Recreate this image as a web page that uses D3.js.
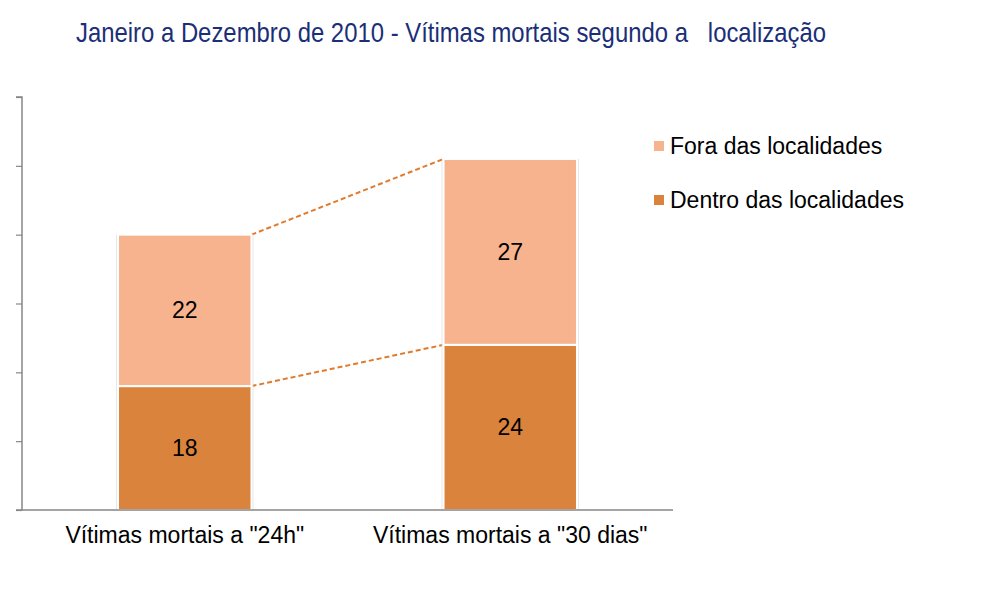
<!DOCTYPE html>
<html>
<head>
<meta charset="utf-8">
<script src="https://cdn.jsdelivr.net/npm/d3@7"></script>
<style>
  html, body { margin: 0; padding: 0; background: #ffffff; }
  svg { display: block; }
</style>
</head>
<body>
<svg id="chart" width="982" height="602"></svg>
<script>
const titleText = "Janeiro a Dezembro de 2010 - Vítimas mortais segundo a\u00a0\u00a0 localização";
const categories = ['Vítimas mortais a "24h"', 'Vítimas mortais a "30 dias"'];
const seriesNames = ["Dentro das localidades", "Fora das localidades"];
const dentro = [18, 24];
const fora = [22, 27];
const yTicks = [0, 10, 20, 30, 40, 50, 60];

const colors = { "Dentro das localidades": "#da833d", "Fora das localidades": "#f7b38e" };

const svg = d3.select("#chart");
const mLeft = 22, mRight = 673, mTop = 97, mBottom = 510;

const x = d3.scaleBand().domain(categories).range([mLeft, mRight]).padding(0);
const y = d3.scaleLinear().domain([0, 60]).range([mBottom, mTop]);
const barW = x.bandwidth() * 0.41;

// Title
svg.append("text")
  .attr("x", 76).attr("y", 42)
  .attr("textLength", 750).attr("lengthAdjust", "spacingAndGlyphs")
  .style("font-family", "'Liberation Sans Narrow', 'Arial Narrow', 'Liberation Sans', Arial, sans-serif")
  .style("font-size", "28px")
  .style("fill", "#1b2f78")
  .text(titleText);

// Stack data
const table = categories.map((c, i) => ({ cat: c, "Dentro das localidades": dentro[i], "Fora das localidades": fora[i] }));
const stack = d3.stack().keys(seriesNames)(table);

// Connector dashed lines (between bars)
seriesNames.forEach((k, si) => {
  const s = stack[si];
  svg.append("line")
    .attr("x1", x(categories[0]) + x.bandwidth() / 2 + barW / 2)
    .attr("y1", y(s[0][1]))
    .attr("x2", x(categories[1]) + x.bandwidth() / 2 - barW / 2)
    .attr("y2", y(s[1][1]))
    .attr("stroke", "#e07a2c")
    .attr("stroke-width", 2)
    .attr("stroke-dasharray", "5,3");
});

// Bars
stack.forEach(s => {
  const g = svg.append("g");
  g.selectAll("rect.shadow").data(s).join("rect")
    .attr("class", "shadow")
    .attr("x", d => x(d.data.cat) + x.bandwidth() / 2 - barW / 2 - 2)
    .attr("y", d => y(d[1]))
    .attr("width", barW + 4)
    .attr("height", d => y(d[0]) - y(d[1]))
    .attr("fill", "#d8d8d8")
    .attr("opacity", 0.6);
  g.selectAll("rect.bar").data(s).join("rect")
    .attr("class", "bar")
    .attr("x", d => x(d.data.cat) + x.bandwidth() / 2 - barW / 2)
    .attr("y", d => y(d[1]))
    .attr("width", barW)
    .attr("height", d => y(d[0]) - y(d[1]))
    .attr("fill", colors[s.key])
    .attr("stroke", "#ffffff")
    .attr("stroke-width", 2);
  g.selectAll("text").data(s).join("text")
    .attr("x", d => x(d.data.cat) + x.bandwidth() / 2)
    .attr("y", d => (y(d[0]) + y(d[1])) / 2 + 8)
    .attr("text-anchor", "middle")
    .style("font-family", "'Liberation Sans', Arial, sans-serif")
    .style("font-size", "23px")
    .style("fill", "#000")
    .text(d => d[1] - d[0]);
});

// Y axis
const yAxis = d3.axisLeft(y).tickValues(yTicks).tickSize(6).tickFormat("");
const yg = svg.append("g").attr("transform", `translate(${mLeft},0)`).call(yAxis);
yg.select(".domain").attr("stroke", "#868686").attr("stroke-width", 1.5).attr("d", `M-6,${mTop}H0V${mBottom}`);
yg.selectAll(".tick line").attr("stroke", "#868686").attr("stroke-width", 1.2);

// X axis
const xAxis = d3.axisBottom(x).tickSize(0).tickPadding(17);
const xg = svg.append("g").attr("transform", `translate(0,${mBottom})`).call(xAxis);
xg.select(".domain").attr("stroke", "#868686").attr("stroke-width", 1.5).attr("d", `M16,0H${mRight}`);
xg.selectAll(".tick text")
  .style("font-family", "'Liberation Sans', Arial, sans-serif")
  .style("font-size", "23px")
  .style("fill", "#000");

// Legend
const legendItems = ["Fora das localidades", "Dentro das localidades"];
const lg = svg.append("g");
legendItems.forEach((k, i) => {
  const ly = 146 + i * 54;
  lg.append("rect").attr("x", 654).attr("y", ly - 5).attr("width", 10).attr("height", 10).attr("fill", colors[k]);
  lg.append("text").attr("x", 670).attr("y", ly + 8)
    .style("font-family", "'Liberation Sans', Arial, sans-serif")
    .style("font-size", "23px")
    .style("fill", "#000")
    .text(k);
});
</script>
</body>
</html>
